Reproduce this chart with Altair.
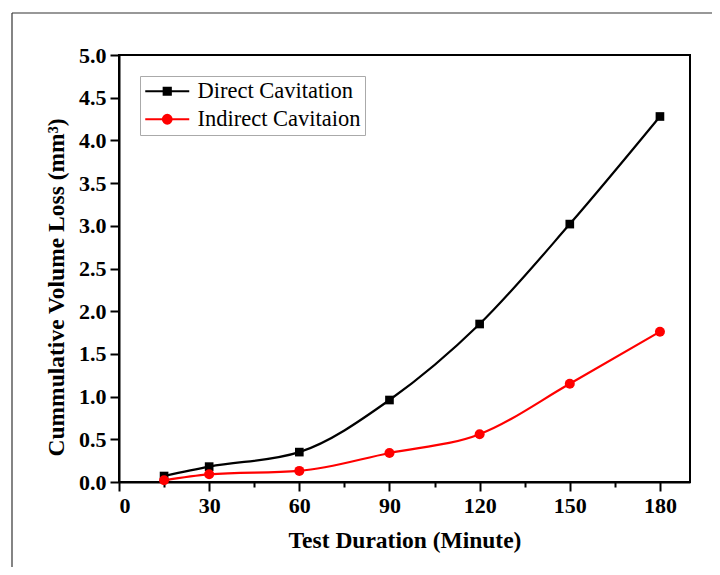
import altair as alt
import pandas as pd

durations = [15, 30, 60, 90, 120, 150, 180]
direct = [0.07, 0.18, 0.35, 0.96, 1.85, 3.02, 4.28]
indirect = [0.02, 0.09, 0.13, 0.34, 0.56, 1.15, 1.76]
series_names = ["Direct Cavitation", "Indirect Cavitaion"]
series_colors = ["#000000", "#ff0000"]

rows = []
for d, v in zip(durations, direct):
    rows.append({"t": d, "v": v, "s": series_names[0]})
for d, v in zip(durations, indirect):
    rows.append({"t": d, "v": v, "s": series_names[1]})
df = pd.DataFrame(rows)

FONT = "Liberation Serif"

x_ticks = list(range(0, 181, 15))
y_ticks = [i * 0.25 for i in range(0, 21)]

x_enc = alt.X("t:Q", scale=alt.Scale(domain=[0, 190], nice=False, zero=False),
              axis=alt.Axis(values=x_ticks,
                            labelExpr="datum.value % 30 === 0 ? datum.label : ''",
                            tickSize={"condition": {"test": "datum.value % 30 === 0", "value": 9}, "value": 5},
                            title="Test Duration (Minute)", grid=False,
                            labelPadding=4, titlePadding=12))
y_enc = alt.Y("v:Q", scale=alt.Scale(domain=[0, 5], nice=False),
              axis=alt.Axis(values=y_ticks,
                            labelExpr="datum.value % 0.5 === 0 ? format(datum.value, '.1f') : ''",
                            tickSize={"condition": {"test": "datum.value % 0.5 === 0", "value": 9}, "value": 5},
                            title="Cummulative Volume Loss (mm³)", grid=False,
                            labelPadding=4, titlePadding=10, titleY=232))

color_scale = alt.Scale(domain=series_names, range=series_colors)

lines = alt.Chart(df).mark_line(strokeWidth=2.2, interpolate="monotone").encode(
    x=x_enc, y=y_enc,
    color=alt.Color("s:N", scale=color_scale, legend=None),
)

points = alt.Chart(df).mark_point(filled=True, opacity=1).encode(
    x="t:Q", y="v:Q",
    color=alt.Color("s:N", scale=color_scale, legend=None),
    shape=alt.Shape("s:N", scale=alt.Scale(domain=series_names, range=["square", "circle"]), legend=None),
    size=alt.Size("s:N", scale=alt.Scale(domain=series_names, range=[75, 100]), legend=None),
)

# legend symbols: line segment + marker drawn with strokes (stripes fill the marker)
sq_path = ("M-2.2,0H2.2M-0.36,-0.36H0.36V0.36H-0.36Z"
           "M-0.36,-0.18H0.36M-0.36,0.18H0.36")
ci_path = ("M-2.2,0H2.2"
           "M-0.44,0A0.44,0.44 0 1,0 0.44,0A0.44,0.44 0 1,0 -0.44,0Z"
           "M-0.24,0A0.24,0.24 0 1,0 0.24,0A0.24,0.24 0 1,0 -0.24,0Z"
           "M0,-0.4V0.4")

carrier = alt.Chart(df).mark_point(opacity=0, filled=False, strokeWidth=2).encode(
    x="t:Q", y="v:Q",
    color=alt.Color("s:N", scale=alt.Scale(domain=series_names, range=series_colors),
                    legend=alt.Legend(title=None)),
    shape=alt.Shape("s:N", scale=alt.Scale(domain=series_names, range=[sq_path, ci_path]),
                    legend=alt.Legend(title=None)),
)

frame_left = alt.Chart(pd.DataFrame({"a": [0]})).mark_rule(color="#333333", strokeWidth=1.2).encode(
    x=alt.value(-107), y=alt.value(-42), y2=alt.value(530))
frame_top = alt.Chart(pd.DataFrame({"a": [0]})).mark_rule(color="#333333", strokeWidth=1.2).encode(
    x=alt.value(-107), x2=alt.value(610), y=alt.value(-42))

chart = alt.layer(lines, points, carrier, frame_left, frame_top).resolve_scale(
    shape="independent", color="independent"
).properties(
    width=571, height=427,
    autosize=alt.AutoSizeParams(type="none"),
    padding={"left": 111, "top": 47, "right": 22, "bottom": 85},
    background="white",
).configure_view(
    stroke="black", strokeWidth=2
).configure_axis(
    domainColor="black", domainWidth=2, tickColor="black", tickWidth=2,
    labelFont=FONT, labelFontWeight="bold", labelFontSize=22, labelColor="black",
    titleFont=FONT, titleFontWeight="bold", titleFontSize=23.5, titleColor="black",
).configure_legend(
    orient="none", legendX=21, legendY=21,
    labelFont=FONT, labelFontSize=22.5, labelColor="black", labelLimit=400,
    symbolSize=400, symbolStrokeWidth=2, symbolOpacity=1, symbolOffset=12,
    labelOffset=19, rowPadding=5,
    strokeColor="#aaaaaa", padding=4, cornerRadius=0,
)

chart.save("out.html", embed_options={"renderer": "svg", "actions": False})
